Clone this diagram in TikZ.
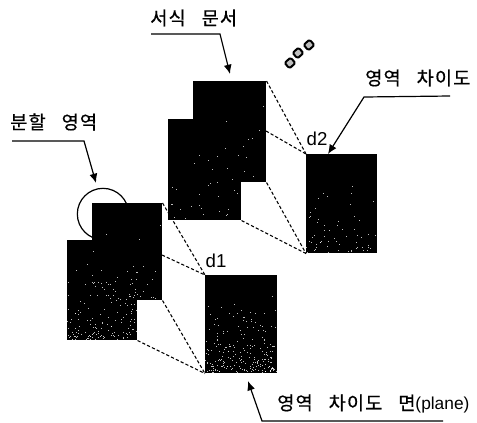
\documentclass[tikz,border=0pt]{standalone}
\usepackage{fontspec}
\setmainfont{Liberation Sans}
\newfontfamily\kr[WordSpace=3,LetterSpace=6,FakeBold=0.6]{Noto Sans CJK KR}
\usetikzlibrary{arrows.meta}
\tikzset{
 x=0.75pt,y=-0.75pt,
 panel/.style={fill=black,draw=none,inner sep=0pt,minimum width=#1*0.75pt,anchor=north west},
 lab/.style={font=\kr\fontsize{14}{14}\selectfont,inner sep=0pt,text=black},
 dl/.style={font=\fontsize{14}{14}\selectfont,inner sep=0pt},
 lead/.style={draw=black,line width=0.9pt,-{Latex[length=7pt,width=6pt]}},
 dashline/.style={draw=black,line width=0.8pt,dash pattern=on 2.4pt off 1.6pt},
}
\newcommand{\specks}[6]{% x0 y0 w h count seed
 \pgfmathsetseed{#6}
 \foreach \i in {1,...,#5}{
  \pgfmathsetmacro{\px}{#1+rnd*#3}
  \pgfmathsetmacro{\py}{#2+#4*(1-rnd*rnd*0.85)}
  \fill[white,opacity=.75] (\px,\py) rectangle ++(1,1);
 }}
\begin{document}
\begin{tikzpicture}
\useasboundingbox (0,0) rectangle (477,422);
\fill[white] (0,0) rectangle (477,422);
% circle
\node[circle,draw=black,line width=0.9pt,minimum size=38.5pt,inner sep=0pt] (ring) at (103,214) {};
% panels
\node[panel=73,minimum height=75.75pt] (tb) at (193,81) {};
\node[panel=73,minimum height=75.75pt] (tf) at (168,119) {};
\node[panel=71,minimum height=74.25pt] (pd2) at (306,154) {};
\node[panel=70,minimum height=72.75pt] (bb) at (92,203) {};
\node[panel=70,minimum height=75pt] (bf) at (67,240) {};
\node[panel=72,minimum height=73.5pt] (pd1) at (205,275) {};
\specks{193}{85}{72}{95}{14}{3}
\specks{168}{122}{72}{96}{26}{5}
\specks{306}{157}{70}{95}{60}{7}
\specks{92}{206}{69}{92}{45}{11}
\specks{67}{243}{70}{96}{130}{13}
\specks{205}{278}{71}{94}{220}{17}
% labels
\node[lab,anchor=west] (t1) at (150,18) {서식 문서};
\node[lab,anchor=west] (t2) at (10,122) {분할 영역};
\node[lab,anchor=west] (t3) at (365,78) {영역 차이도};
\node[lab,anchor=west] (t4) at (277,404) {영역 차이도 면{\rmfamily\fontsize{13}{14}\selectfont(plane)}};
\node[dl] (d2) at (317,139) {d2};
\node[dl] (d1) at (216,261) {d1};
% leaders
\coordinate (a1) at (151,34); \coordinate (a1k) at (220,34); \coordinate (a1e) at (230,74);
\coordinate (a2) at (12,141); \coordinate (a2k) at (84,141); \coordinate (a2e) at (96,183);
\coordinate (a3) at (450,96); \coordinate (a3k) at (364,97); \coordinate (a3e) at (328,154);
\coordinate (a4) at (443,421); \coordinate (a4k) at (262,421); \coordinate (a4e) at (248,381);
\draw[lead] (a1) -- (a1k) -- (a1e);
\draw[lead] (a2) -- (a2k) -- (a2e);
\draw[lead] (a3) -- (a3k) -- (a3e);
\draw[lead] (a4) -- (a4k) -- (a4e);
% dashes
\coordinate (m2) at (266,131); \coordinate (m1) at (162,255);
\draw[dashline] (tb.north east) -- (pd2.north west);
\draw[dashline] (m2) -- (pd2.north west);
\draw[dashline] (tb.south east) -- (pd2.south west);
\draw[dashline] (tf.south east) -- (pd2.south west);
\draw[dashline] (bb.north east) -- (pd1.north west);
\draw[dashline] (m1) -- (pd1.north west);
\draw[dashline] (bb.south east) -- (pd1.south west);
\draw[dashline] (bf.south east) -- (pd1.south west);
% small marks
\foreach \c/\n in {{(290,63)}/m1a,{(298,53)}/m1b,{(309,45)}/m1c}{
 \node[rotate=42,draw=black,fill=gray!50,line width=1.5pt,rounded corners=1.2pt,minimum width=6pt,minimum height=5.5pt,inner sep=0pt] (\n) at \c {};
}
\end{tikzpicture}
\end{document}
